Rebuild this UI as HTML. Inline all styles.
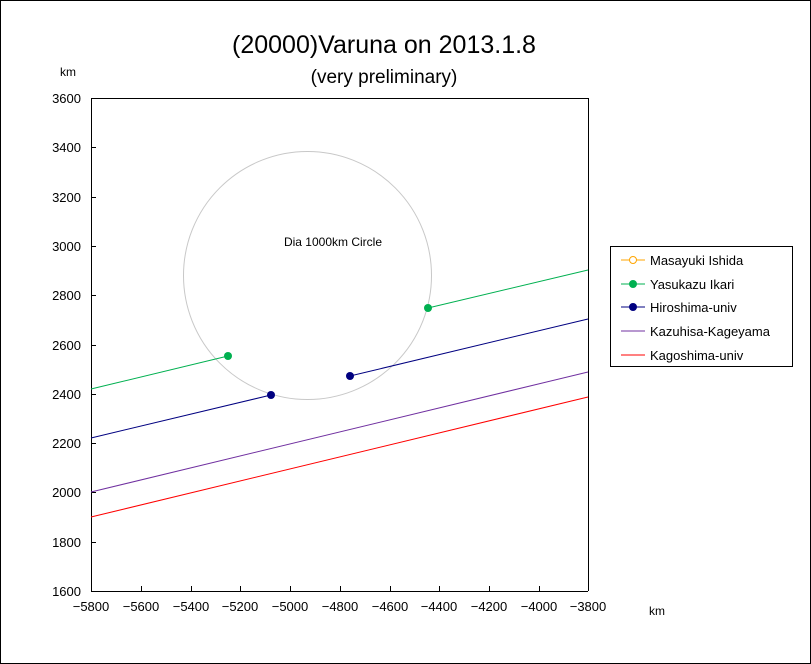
<!DOCTYPE html>
<html><head><meta charset="utf-8"><style>body{margin:0;background:#fff}svg{display:block;font-family:"Liberation Sans","Noto Sans CJK JP",sans-serif}</style></head><body>
<svg width="811" height="664" xmlns="http://www.w3.org/2000/svg">
<rect x="0.5" y="0.5" width="810" height="663" fill="#fff" stroke="#000"/>
<text x="384" y="53" font-size="25" text-anchor="middle">(20000)Varuna on 2013.1.8</text>
<text x="384" y="83" font-size="19" text-anchor="middle">(very preliminary)</text>
<text x="68" y="76" font-size="12" text-anchor="middle">km</text>
<text x="657" y="615" font-size="12" text-anchor="middle">km</text>
<g stroke="#000" stroke-width="1" fill="none">
<path d="M91.5 98 V591.5 H588"/>
<path d="M91 98.5 H588.5 V591"/>
</g>
<g stroke="#000" stroke-width="1">
<line x1="91" y1="98.5" x2="96" y2="98.5"/><line x1="91" y1="147.5" x2="96" y2="147.5"/><line x1="91" y1="197.5" x2="96" y2="197.5"/><line x1="91" y1="246.5" x2="96" y2="246.5"/><line x1="91" y1="295.5" x2="96" y2="295.5"/><line x1="91" y1="345.5" x2="96" y2="345.5"/><line x1="91" y1="394.5" x2="96" y2="394.5"/><line x1="91" y1="443.5" x2="96" y2="443.5"/><line x1="91" y1="492.5" x2="96" y2="492.5"/><line x1="91" y1="542.5" x2="96" y2="542.5"/>
<line x1="141.5" y1="586" x2="141.5" y2="591"/><line x1="191.5" y1="586" x2="191.5" y2="591"/><line x1="240.5" y1="586" x2="240.5" y2="591"/><line x1="290.5" y1="586" x2="290.5" y2="591"/><line x1="340.5" y1="586" x2="340.5" y2="591"/><line x1="390.5" y1="586" x2="390.5" y2="591"/><line x1="439.5" y1="586" x2="439.5" y2="591"/><line x1="489.5" y1="586" x2="489.5" y2="591"/><line x1="539.5" y1="586" x2="539.5" y2="591"/>
</g>
<g font-size="13" text-anchor="end">
<text x="81" y="103">3600</text><text x="81" y="152">3400</text><text x="81" y="202">3200</text><text x="81" y="251">3000</text><text x="81" y="300">2800</text><text x="81" y="350">2600</text><text x="81" y="399">2400</text><text x="81" y="448">2200</text><text x="81" y="497">2000</text><text x="81" y="547">1800</text><text x="81" y="596">1600</text>
</g>
<g font-size="13" text-anchor="middle">
<text x="91" y="611">−5800</text><text x="141" y="611">−5600</text><text x="191" y="611">−5400</text><text x="240" y="611">−5200</text><text x="290" y="611">−5000</text><text x="340" y="611">−4800</text><text x="390" y="611">−4600</text><text x="439" y="611">−4400</text><text x="489" y="611">−4200</text><text x="539" y="611">−4000</text><text x="588" y="611">−3800</text>
</g>
<circle cx="307.5" cy="275.5" r="124" fill="none" stroke="#c8c8c8"/>
<text x="333" y="246" font-size="12" text-anchor="middle">Dia 1000km Circle</text>
<g stroke-width="1" fill="none">
<line x1="91" y1="389" x2="228" y2="356" stroke="#00b050"/>
<line x1="428" y1="308" x2="588" y2="270" stroke="#00b050"/>
<line x1="91" y1="438" x2="271" y2="395" stroke="#000080"/>
<line x1="350" y1="376" x2="588" y2="319" stroke="#000080"/>
<line x1="91" y1="492" x2="588" y2="372" stroke="#7030a0"/>
<line x1="91" y1="517" x2="588" y2="397" stroke="#ff0000"/>
</g>
<circle cx="228" cy="356" r="4" fill="#00b050"/><circle cx="428" cy="308" r="4" fill="#00b050"/>
<circle cx="271" cy="395" r="4" fill="#000080"/><circle cx="350" cy="376" r="4" fill="#000080"/>
<rect x="610.5" y="246.5" width="182" height="120" fill="#fff" stroke="#000"/>
<g font-size="13">
<line x1="621" y1="260" x2="645" y2="260" stroke="#ffa500"/><circle cx="633" cy="260" r="3.5" fill="#fff" stroke="#ffa500"/><text x="650" y="265">Masayuki Ishida</text>
<line x1="621" y1="284" x2="645" y2="284" stroke="#00b050"/><circle cx="633" cy="284" r="4" fill="#00b050"/><text x="650" y="289">Yasukazu Ikari</text>
<line x1="621" y1="307" x2="645" y2="307" stroke="#000080"/><circle cx="633" cy="307" r="4" fill="#000080"/><text x="650" y="312">Hiroshima-univ</text>
<line x1="621" y1="331" x2="645" y2="331" stroke="#7030a0"/><text x="650" y="336">Kazuhisa-Kageyama</text>
<line x1="621" y1="355" x2="645" y2="355" stroke="#ff0000"/><text x="650" y="360">Kagoshima-univ</text>
</g>
</svg>
</body></html>
